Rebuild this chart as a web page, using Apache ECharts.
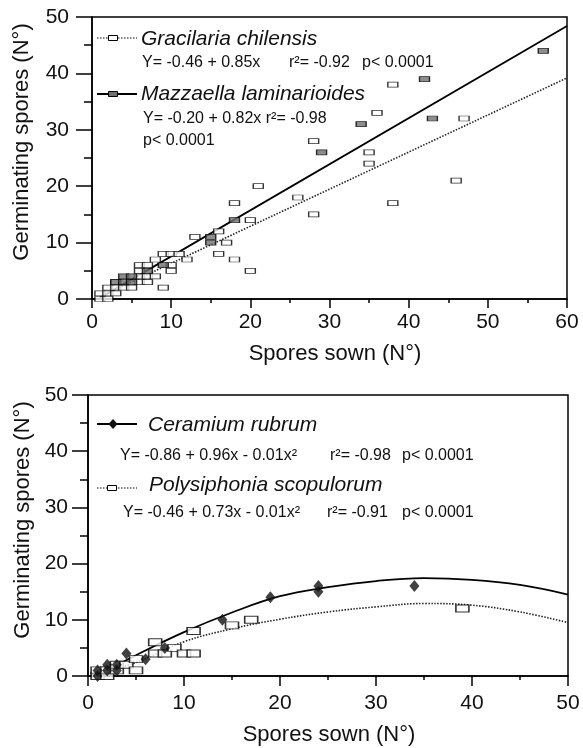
<!DOCTYPE html>
<html><head><meta charset="utf-8">
<script src="https://cdn.jsdelivr.net/npm/echarts@6/dist/echarts.min.js"></script>
<style>html,body{margin:0;padding:0;background:#fff}#c{width:583px;height:748px}</style>
</head><body><div id="c"></div>
<script>
// ---- top panel data ----
const topXMax = 60;
const topYMax = 50;
const gracilaria = [
  [1,0],[2,0],[1,1],[2,1],[3,1],[2,2],[3,2],[4,2],[5,2],[9,2],[3,3],[6,3],[7,3],
  [6,4],[7,4],[8,4],[6,5],[10,5],[6,6],[7,6],[10,6],[8,7],[9,8],[10,8],[11,8],[12,7],
  [13,11],[16,12],[17,10],[16,8],[18,7],[20,5],[18,17],[20,14],[21,20],[26,18],[28,15],
  [28,28],[35,26],[35,24],[36,33],[38,38],[38,17],[46,21],[47,32]
];
const mazzaella = [
  [3,3],[4,3],[5,3],[4,4],[5,4],[7,5],[9,6],[15,10],[15,11],[18,14],[29,26],[34,31],
  [42,39],[43,32],[57,44]
];
const gracilariaFit = [[1,0.4],[60,39.2]];
const mazzaellaFit = [[1,0.2],[60,48.4]];

// ---- bottom panel data ----
const botXMax = 50;
const botYMax = 50;
const ceramium = [
  [1,0],[1,1],[2,1],[2,2],[3,1],[3,2],[4,4],[6,3],[8,5],[14,10],[19,14],[24,15],[24,16],[34,16]
];
const polysiphonia = [
  [1,0],[1,1],[2,0],[2,1],[3,1],[3,2],[4,2],[5,1],[5,3],[7,4],[7,6],[8,4],[9,5],[10,4],
  [11,4],[11,8],[15,9],[17,10],[39,12]
];
const ceramiumFit = [[2,1.0],[5,3.7],[10,7.8],[15,11.3],[20,14.2],[25,15.8],[30,16.9],[35,17.4],[40,17.1],[45,16.2],[50,14.5]];
const polysiphoniaFit = [[2,1.0],[5,2.4],[10,6.1],[15,8.4],[20,10.1],[25,11.4],[30,12.3],[35,12.9],[40,12.6],[45,11.4],[50,9.5]];

const FONT = '"Liberation Sans", Arial, sans-serif';
const INK = '#111';
const TICK = '#000';

function xAx(gi, max, margin, len) {
  return {type:'value', gridIndex:gi, min:0, max:max, interval:10,
    axisLine:{show:true, onZero:false, lineStyle:{color:'#000', width:1.5}},
    axisTick:{show:true, inside:false, length:len, lineStyle:{color:TICK, width:1.5}},
    minorTick:{show:true, splitNumber:2, length:4, lineStyle:{color:TICK, width:1.5}},
    splitLine:{show:false}, minorSplitLine:{show:false},
    axisLabel:{margin:margin, fontSize:21, color:INK, fontFamily:FONT}};
}
function yAx(gi, max, margin) {
  return {type:'value', gridIndex:gi, min:0, max:max, interval:10,
    axisLine:{show:true, onZero:false, lineStyle:{color:'#000', width:1.5}},
    axisTick:{show:true, inside:false, length:16, lineStyle:{color:TICK, width:1.5}},
    minorTick:{show:true, splitNumber:2, length:8, lineStyle:{color:TICK, width:1.5}},
    splitLine:{show:false}, minorSplitLine:{show:false},
    axisLabel:{margin:margin, fontSize:21, color:INK, fontFamily:FONT}};
}

const openRect = {color:'#fff', borderColor:'#000', borderWidth:1};
const grayRect = {color:'#707070', borderColor:'#000', borderWidth:1};

function txt(x, y, s, size, italic) {
  return {type:'text', x:x, y:y, z:100, style:{text:s, fill:INK,
    font:(italic?'italic ':'') + size + 'px ' + FONT, align:'left', verticalAlign:'middle'}};
}

const graphic = [
  {type:'line', shape:{x1:97,y1:38,x2:137,y2:38}, style:{stroke:'#000', lineWidth:1.2, lineDash:[1.5,1.5]}},
  {type:'rect', shape:{x:108.5,y:35.5,width:9,height:5}, style:{fill:'#fff', stroke:'#000', lineWidth:1}},
  txt(141, 39, 'Gracilaria chilensis', 21, true),
  txt(142, 63, 'Y= -0.46 + 0.85x', 16),
  txt(289, 63, 'r²= -0.92', 16),
  txt(362, 63, 'p< 0.0001', 16),
  {type:'line', shape:{x1:97,y1:94,x2:137,y2:94}, style:{stroke:'#000', lineWidth:1.8}},
  {type:'rect', shape:{x:108.5,y:91.5,width:9,height:5}, style:{fill:'#707070', stroke:'#000', lineWidth:1}},
  txt(141, 94, 'Mazzaella laminarioides', 21, true),
  txt(143, 119, 'Y= -0.20 + 0.82x r²= -0.98', 16),
  txt(143, 141, 'p< 0.0001', 16),
  {type:'line', shape:{x1:97,y1:424,x2:137,y2:424}, style:{stroke:'#000', lineWidth:1.8}},
  {type:'polygon', shape:{points:[[113,419],[117.5,424],[113,429],[108.5,424]]}, style:{fill:'#111'}},
  txt(148, 425, 'Ceramium rubrum', 21, true),
  txt(120, 456, 'Y= -0.86 + 0.96x - 0.01x²', 16),
  txt(330, 456, 'r²= -0.98', 16),
  txt(402, 456, 'p< 0.0001', 16),
  {type:'line', shape:{x1:97,y1:488,x2:137,y2:488}, style:{stroke:'#000', lineWidth:1.2, lineDash:[1.5,1.5]}},
  {type:'rect', shape:{x:107.5,y:485.5,width:9,height:5}, style:{fill:'#fff', stroke:'#000', lineWidth:1}},
  txt(149, 485, 'Polysiphonia scopulorum', 21, true),
  txt(123, 513, 'Y= -0.46 + 0.73x - 0.01x²', 16),
  txt(327, 513, 'r²= -0.91', 16),
  txt(402, 513, 'p< 0.0001', 16),
  {type:'text', x:22, y:142, rotation:Math.PI/2, style:{text:'Germinating spores (N°)', fill:INK, font:'22px '+FONT, align:'center', verticalAlign:'middle'}},
  {type:'text', x:335, y:354, style:{text:'Spores sown (N°)', fill:INK, font:'22px '+FONT, align:'center', verticalAlign:'middle'}},
  {type:'text', x:23, y:520, rotation:Math.PI/2, style:{text:'Germinating spores (N°)', fill:INK, font:'22px '+FONT, align:'center', verticalAlign:'middle'}},
  {type:'text', x:329, y:735, style:{text:'Spores sown (N°)', fill:INK, font:'22px '+FONT, align:'center', verticalAlign:'middle'}}
];

const chart = echarts.init(document.getElementById('c'), null, {renderer:'canvas'});
chart.setOption({
  backgroundColor:'#fff',
  animation:false,
  textStyle:{fontFamily:FONT},
  grid:[
    {left:92, top:17, width:475, height:282, show:true, borderColor:'#000', borderWidth:1.5, backgroundColor:'transparent'},
    {left:88, top:395, width:480, height:281, show:true, borderColor:'#000', borderWidth:1.5, backgroundColor:'transparent'}
  ],
  xAxis:[ xAx(0, topXMax, 13, 9), xAx(1, botXMax, 17, 10) ],
  yAxis:[ yAx(0, topYMax, 23), yAx(1, botYMax, 20) ],
  graphic: graphic,
  series:[
    {type:'line', name:'Gracilaria fit', xAxisIndex:0, yAxisIndex:0, data:gracilariaFit, showSymbol:false,
      lineStyle:{color:'#222', width:1.6, type:[1.5,1.5]}, z:2},
    {type:'line', name:'Mazzaella fit', xAxisIndex:0, yAxisIndex:0, data:mazzaellaFit, showSymbol:false,
      lineStyle:{color:'#000', width:1.8}, z:2},
    {type:'scatter', name:'Gracilaria chilensis', xAxisIndex:0, yAxisIndex:0, data:gracilaria,
      symbol:'rect', symbolSize:[10,5], itemStyle:openRect, z:3},
    {type:'scatter', name:'Mazzaella laminarioides', xAxisIndex:0, yAxisIndex:0, data:mazzaella,
      symbol:'rect', symbolSize:[10,5], itemStyle:grayRect, z:4},
    {type:'line', name:'Ceramium fit', xAxisIndex:1, yAxisIndex:1, data:ceramiumFit, showSymbol:false, smooth:0.4,
      lineStyle:{color:'#000', width:1.8}, z:2},
    {type:'line', name:'Polysiphonia fit', xAxisIndex:1, yAxisIndex:1, data:polysiphoniaFit, showSymbol:false, smooth:0.4,
      lineStyle:{color:'#222', width:1.6, type:[1.5,1.5]}, z:2},
    {type:'scatter', name:'Polysiphonia scopulorum', xAxisIndex:1, yAxisIndex:1, data:polysiphonia,
      symbol:'rect', symbolSize:[13,7], itemStyle:{color:'#fff', borderColor:'#000', borderWidth:1.2}, z:3},
    {type:'scatter', name:'Ceramium rubrum', xAxisIndex:1, yAxisIndex:1, data:ceramium,
      symbol:'diamond', symbolSize:[10,12], itemStyle:{color:'#111'}, z:4}
  ]
});
</script></body></html>
